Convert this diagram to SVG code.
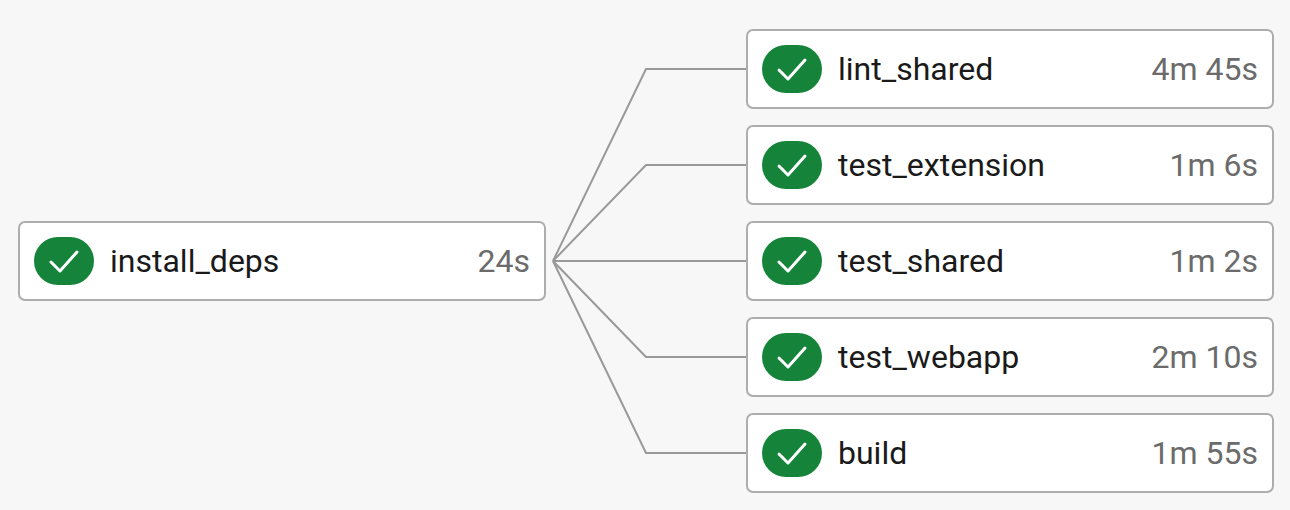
<svg xmlns="http://www.w3.org/2000/svg" width="1290" height="510" viewBox="0 0 1290 510">
<defs>
<style>
.box{fill:#fff;stroke:#adadad;stroke-width:2}
.pill{fill:#15843a}
.chk{fill:none;stroke:#fff;stroke-width:3;stroke-linecap:round;stroke-linejoin:round}
.name{font-family:Roboto,sans-serif;font-size:32px;fill:#1a1a1a}
.time{font-family:Roboto,sans-serif;font-size:32px;fill:#6b6b6b;text-anchor:end}
.conn{fill:none;stroke:#999;stroke-width:2}
</style>
<g id="badge"><rect class="pill" x="0" y="0" width="60" height="48" rx="24"/><path class="chk" d="M17 25L26 34L43 15"/></g>
</defs>
<rect width="1290" height="510" fill="#f7f7f7"/>
<g id="connectors">
<path class="conn" d="M553 261L646 69H747"/>
<path class="conn" d="M553 261L646 165H747"/>
<path class="conn" d="M553 261H747"/>
<path class="conn" d="M553 261L646 357H747"/>
<path class="conn" d="M553 261L646 453H747"/>
</g>
<g id="install_deps"><rect class="box" x="19" y="222" width="526" height="78" rx="6"/><use href="#badge" x="34" y="237"/><text class="name" x="110" y="272">install_deps</text><text class="time" x="530" y="272">24s</text></g>
<g id="lint_shared"><rect class="box" x="747" y="30" width="526" height="78" rx="6"/><use href="#badge" x="762" y="45"/><text class="name" x="838" y="80">lint_shared</text><text class="time" x="1258" y="80">4m 45s</text></g>
<g id="test_extension"><rect class="box" x="747" y="126" width="526" height="78" rx="6"/><use href="#badge" x="762" y="141"/><text class="name" x="838" y="176">test_extension</text><text class="time" x="1258" y="176">1m 6s</text></g>
<g id="test_shared"><rect class="box" x="747" y="222" width="526" height="78" rx="6"/><use href="#badge" x="762" y="237"/><text class="name" x="838" y="272">test_shared</text><text class="time" x="1258" y="272">1m 2s</text></g>
<g id="test_webapp"><rect class="box" x="747" y="318" width="526" height="78" rx="6"/><use href="#badge" x="762" y="333"/><text class="name" x="838" y="368">test_webapp</text><text class="time" x="1258" y="368">2m 10s</text></g>
<g id="build"><rect class="box" x="747" y="414" width="526" height="78" rx="6"/><use href="#badge" x="762" y="429"/><text class="name" x="838" y="464">build</text><text class="time" x="1258" y="464">1m 55s</text></g>
</svg>
